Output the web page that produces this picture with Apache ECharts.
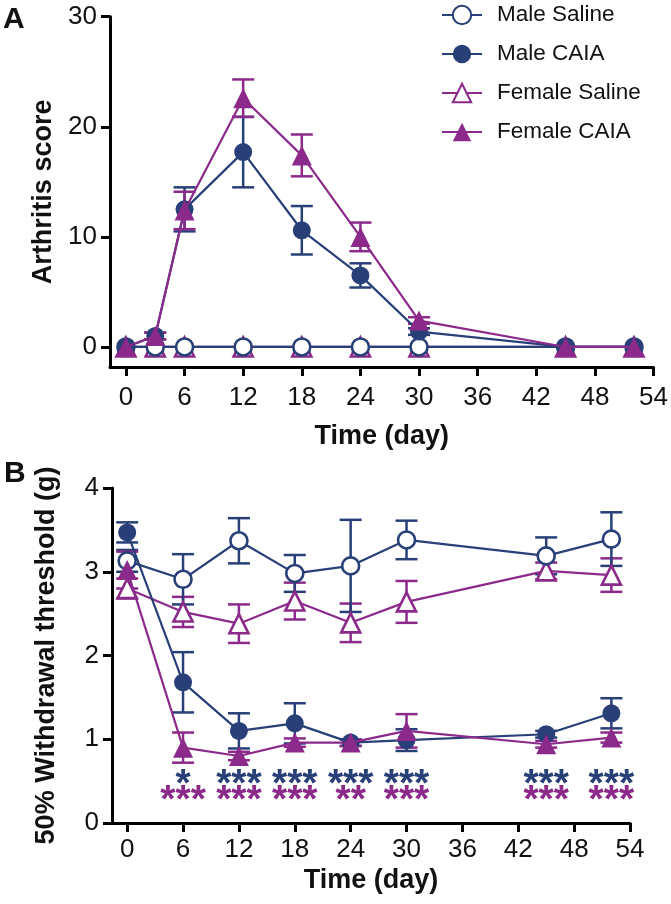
<!DOCTYPE html>
<html><head><meta charset="utf-8">
<script src="https://cdn.jsdelivr.net/npm/echarts@6/dist/echarts.min.js"></script>
<style>html,body{margin:0;padding:0;background:#fff}#c{width:671px;height:904px}</style>
</head><body><div id="c"></div>
<script>
// ---------- data ----------
const seriesNames = ['Male Saline', 'Male CAIA', 'Female Saline', 'Female CAIA'];
const xTicks = [0, 6, 12, 18, 24, 30, 36, 42, 48, 54];
const yTicksA = [0, 10, 20, 30];
const yTicksB = [0, 1, 2, 3, 4];

// Panel A: arthritis score
const daysA = [0, 3, 6, 12, 18, 24, 30, 45, 52];
const maleSalineA = [0, 0, 0, 0, 0, 0, 0, 0, 0];
const maleSalineA_sem = [0, 0, 0, 0, 0, 0, 0, 0, 0];
const maleCAIA_A = [0, 1.0, 12.5, 17.7, 10.6, 6.5, 1.4, 0, 0];
const maleCAIA_A_sem = [0, 0.3, 2.0, 3.2, 2.2, 1.1, 0.3, 0, 0];
const femaleSalineA = [0, 0, 0, 0, 0, 0, 0, 0, 0];
const femaleSalineA_sem = [0, 0, 0, 0, 0, 0, 0, 0, 0];
const femaleCAIA_A = [0, 1.0, 12.4, 22.6, 17.4, 10.0, 2.4, 0, 0];
const femaleCAIA_A_sem = [0, 0.3, 1.7, 1.7, 1.9, 1.3, 0.3, 0, 0];

// Panel B: 50% withdrawal threshold (g)
const daysB = [0, 6, 12, 18, 24, 30, 45, 52];
const maleSalineB = [3.13, 2.91, 3.37, 2.98, 3.07, 3.38, 3.19, 3.39];
const maleSalineB_sem = [0.13, 0.30, 0.27, 0.22, 0.55, 0.23, 0.22, 0.32];
const maleCAIA_B = [3.47, 1.68, 1.10, 1.19, 0.96, 0.99, 1.06, 1.31];
const maleCAIA_B_sem = [0.12, 0.36, 0.21, 0.24, 0.04, 0.13, 0.04, 0.18];
const femaleSalineB = [2.80, 2.52, 2.38, 2.65, 2.39, 2.64, 3.01, 2.96];
const femaleSalineB_sem = [0.12, 0.18, 0.23, 0.22, 0.23, 0.25, 0.10, 0.20];
const femaleCAIA_B = [3.02, 0.90, 0.80, 0.96, 0.96, 1.10, 0.94, 1.02];
const femaleCAIA_B_sem = [0.22, 0.18, 0.05, 0.05, 0.04, 0.20, 0.04, 0.06];

// significance markers (panel B)
const sigDays = [6, 12, 18, 24, 30, 45, 52];
const sigMale = ['*', '***', '***', '***', '***', '***', '***'];
const sigFemale = ['***', '***', '***', '**', '***', '***', '***'];

// ---------- styling ----------
const NAVY = '#283f78', PURPLE = '#8b2a8a';
const FONT = '"Liberation Sans", Arial, Helvetica, sans-serif';

function errSeries(ai, days, mean, sem, color, z) {
  const data = [];
  days.forEach((d, i) => { if (sem[i] > 0) data.push([d, mean[i] - sem[i], mean[i] + sem[i]]); });
  return {
    type: 'custom', xAxisIndex: ai, yAxisIndex: ai, z: z, silent: true, animation: false,
    data: data, encode: { x: 0, y: [1, 2] },
    renderItem: function (params, api) {
      const x = api.value(0);
      const lo = api.coord([x, api.value(1)]);
      const hi = api.coord([x, api.value(2)]);
      const w = 11;
      const st = () => ({ stroke: color, lineWidth: 2.5, fill: null });
      return { type: 'group', children: [
        { type: 'line', shape: { x1: lo[0], y1: lo[1], x2: hi[0], y2: hi[1] }, style: st() },
        { type: 'line', shape: { x1: lo[0] - w, y1: lo[1], x2: lo[0] + w, y2: lo[1] }, style: st() },
        { type: 'line', shape: { x1: hi[0] - w, y1: hi[1], x2: hi[0] + w, y2: hi[1] }, style: st() }
      ]};
    }
  };
}

function lineSeries(name, ai, days, vals, color, symbol, hollow, size, z) {
  return {
    name: name, type: 'line', xAxisIndex: ai, yAxisIndex: ai, z: z, animation: false,
    data: days.map((d, i) => [d, vals[i]]),
    symbol: symbol, symbolSize: size, showSymbol: true,
    lineStyle: { color: color, width: 2.2 },
    itemStyle: { color: hollow ? '#ffffff' : color, borderColor: color, borderWidth: hollow ? 2.6 : 0 },
    emphasis: { disabled: true }
  };
}

function starSeries(ai, days, labels, yVal, color) {
  return {
    type: 'custom', xAxisIndex: ai, yAxisIndex: ai, z: 10, silent: true, animation: false,
    data: days.map(d => [d, yVal]),
    renderItem: function (params, api) {
      const p = api.coord([api.value(0), api.value(1)]);
      return { type: 'text', x: p[0], y: p[1] + 12, style: {
        text: labels[params.dataIndex], fill: color,
        font: 'bold 39px ' + FONT, align: 'center', verticalAlign: 'middle' } };
    }
  };
}

function xAxisCfg(gi, margin, nameGap) {
  return {
    type: 'value', gridIndex: gi, min: -1.63, max: 54,
    name: 'Time (day)', nameLocation: 'middle', nameGap: nameGap,
    nameTextStyle: { fontFamily: FONT, fontWeight: 'bold', fontSize: 27, color: '#111' },
    axisLine: { show: true, onZero: false, lineStyle: { color: '#000', width: 3 } },
    axisTick: { show: true, inside: false, length: 9, customValues: xTicks, lineStyle: { color: '#000', width: 3 } },
    axisLabel: { customValues: xTicks, margin: margin, fontFamily: FONT, fontSize: 26, color: '#111' },
    splitLine: { show: false }
  };
}
function yAxisCfg(gi, min, max, ticks, name, nameGap) {
  return {
    type: 'value', gridIndex: gi, min: min, max: max,
    name: name, nameLocation: 'middle', nameGap: nameGap,
    nameTextStyle: { fontFamily: FONT, fontWeight: 'bold', fontSize: 27, color: '#111' },
    axisLine: { show: true, onZero: false, lineStyle: { color: '#000', width: 3 } },
    axisTick: { show: true, inside: false, length: 9, customValues: ticks, lineStyle: { color: '#000', width: 3 } },
    axisLabel: { customValues: ticks, margin: 13, fontFamily: FONT, fontSize: 26, color: '#111' },
    splitLine: { show: false }
  };
}

const chart = echarts.init(document.getElementById('c'), null, { renderer: 'canvas' });
chart.setOption({
  animation: false,
  backgroundColor: '#fff',
  grid: [
    { left: 110, top: 16.7, width: 545, height: 350.3 },
    { left: 112, top: 488, width: 518, height: 335 }
  ],
  xAxis: [xAxisCfg(0, 18, 56), xAxisCfg(1, 14, 44)],
  yAxis: [
    yAxisCfg(0, -1.82, 30, yTicksA, 'Arthritis score', 51),
    yAxisCfg(1, 0, 4, yTicksB, '50% Withdrawal threshold (g)', 52)
  ],
  legend: {
    orient: 'vertical', left: 436, top: -2, itemWidth: 40, itemHeight: 23, itemGap: 15,
    data: seriesNames,
    textStyle: { fontFamily: FONT, fontSize: 22.5, color: '#111', lineHeight: 24, padding: [0, 0, 0, 10] },
    selectedMode: false
  },
  graphic: [
    { type: 'text', left: 3, top: 5, style: { text: 'A', font: 'bold 30px ' + FONT, fill: '#111' } },
    { type: 'text', left: 4, top: 459, style: { text: 'B', font: 'bold 30px ' + FONT, fill: '#111' } }
  ],
  series: [
    errSeries(0, daysA, femaleSalineA, femaleSalineA_sem, PURPLE, 1),
    errSeries(0, daysA, maleSalineA, maleSalineA_sem, NAVY, 1),
    errSeries(0, daysA, maleCAIA_A, maleCAIA_A_sem, NAVY, 1),
    errSeries(0, daysA, femaleCAIA_A, femaleCAIA_A_sem, PURPLE, 1),
    lineSeries('Male Saline', 0, daysA, maleSalineA, NAVY, 'circle', true, 17, 3),
    lineSeries('Male CAIA', 0, daysA, maleCAIA_A, NAVY, 'circle', false, 18, 4),
    lineSeries('Female Saline', 0, daysA, femaleSalineA, PURPLE, 'triangle', true, 19, 2),
    lineSeries('Female CAIA', 0, daysA, femaleCAIA_A, PURPLE, 'triangle', false, 20, 5),

    errSeries(1, daysB, femaleSalineB, femaleSalineB_sem, PURPLE, 1),
    errSeries(1, daysB, maleSalineB, maleSalineB_sem, NAVY, 1),
    errSeries(1, daysB, maleCAIA_B, maleCAIA_B_sem, NAVY, 1),
    errSeries(1, daysB, femaleCAIA_B, femaleCAIA_B_sem, PURPLE, 1),
    lineSeries('Male Saline', 1, daysB, maleSalineB, NAVY, 'circle', true, 17, 3),
    lineSeries('Male CAIA', 1, daysB, maleCAIA_B, NAVY, 'circle', false, 18, 4),
    lineSeries('Female Saline', 1, daysB, femaleSalineB, PURPLE, 'triangle', true, 19, 2),
    lineSeries('Female CAIA', 1, daysB, femaleCAIA_B, PURPLE, 'triangle', false, 20, 5),

    starSeries(1, sigDays, sigMale, 0.6, NAVY),
    starSeries(1, sigDays, sigFemale, 0.4, PURPLE)
  ]
});
</script>
</body></html>
